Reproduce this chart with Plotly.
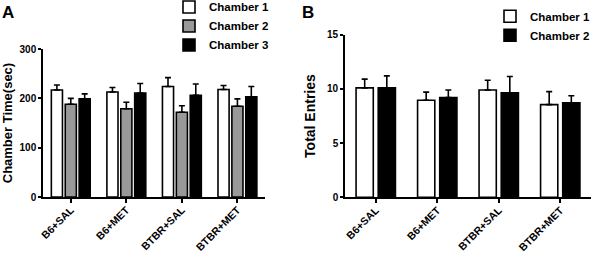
import plotly.graph_objects as go

groups = ["B6+SAL", "B6+MET", "BTBR+SAL", "BTBR+MET"]

# Panel A: chamber time (sec)
a_ch1 = [217, 213, 224, 218]
a_ch1_err = [10, 9, 18, 8]
a_ch2 = [188, 179, 172, 184]
a_ch2_err = [12, 13, 13, 15]
a_ch3 = [199, 211, 206, 203]
a_ch3_err = [10, 19, 23, 21]

# Panel B: total entries
b_ch1 = [10.1, 8.95, 9.9, 8.55]
b_ch1_err = [0.8, 0.75, 0.9, 1.2]
b_ch2 = [10.1, 9.2, 9.65, 8.72]
b_ch2_err = [1.1, 0.7, 1.5, 0.65]

FONT = "Liberation Sans, Arial, sans-serif"
LW = 1.6

fig = go.Figure()

def add_bar(x, y, err, name, fill, xaxis, yaxis, legend, width, offset, cap):
    fig.add_trace(go.Bar(
        x=x, y=y, name=name, xaxis=xaxis, yaxis=yaxis, legend=legend,
        width=width, offset=offset,
        marker=dict(color=fill, line=dict(color="black", width=LW)),
        error_y=dict(type="data", array=err, arrayminus=[0] * len(err), symmetric=False,
                     color="black", thickness=LW, width=cap),
    ))

# Panel A
add_bar(groups, a_ch1, a_ch1_err, "Chamber 1", "white", "x", "y", "legend", 0.2, -0.35, 3)
add_bar(groups, a_ch2, a_ch2_err, "Chamber 2", "#999999", "x", "y", "legend", 0.2, -0.1, 3)
add_bar(groups, a_ch3, a_ch3_err, "Chamber 3", "black", "x", "y", "legend", 0.2, 0.15, 3)
# Panel B
add_bar(groups, b_ch1, b_ch1_err, "Chamber 1", "white", "x2", "y2", "legend2", 0.28, -0.32, 3)
add_bar(groups, b_ch2, b_ch2_err, "Chamber 2", "black", "x2", "y2", "legend2", 0.28, 0.04, 3)

axis_common = dict(showline=True, linecolor="black", linewidth=LW, ticks="outside",
                   tickcolor="black", tickwidth=LW, showgrid=False, zeroline=False,
                   automargin=False)

y_tickfont = dict(family=FONT, size=10, color="black", weight="bold")
x_tickfont = dict(family=FONT, size=10.5, color="black", weight="bold")
legend_font = dict(family=FONT, size=11.5, weight="bold")

fig.update_layout(
    width=600, height=260,
    margin=dict(l=0, r=0, t=0, b=0, autoexpand=False),
    paper_bgcolor="white", plot_bgcolor="white",
    barmode="overlay",
    font=dict(family=FONT, color="black"),
    xaxis=dict(domain=[0.0717, 0.442], anchor="y", type="category", range=[-0.5, 3.5],
               tickangle=-45, ticklen=4, tickfont=x_tickfont, ticklabelstandoff=-3,
               **axis_common),
    yaxis=dict(domain=[0.242, 0.8115], anchor="x", range=[0, 300], tickvals=[0, 100, 200, 300],
               ticklen=3, tickfont=y_tickfont,
               title=dict(text="Chamber Time(sec)", font=dict(family=FONT, size=13, weight="bold"),
                          standoff=6),
               **axis_common),
    xaxis2=dict(domain=[0.575, 0.985], anchor="y2", type="category", range=[-0.5, 3.5],
                tickangle=-45, ticklen=4, tickfont=x_tickfont, ticklabelstandoff=-3,
                **axis_common),
    yaxis2=dict(domain=[0.241, 0.8665], anchor="x2", range=[0, 15], tickvals=[0, 5, 10, 15],
                ticklen=3, tickfont=y_tickfont,
                title=dict(text="Total Entries", font=dict(family=FONT, size=14, weight="bold"),
                           standoff=8),
                **axis_common),
    legend=dict(x=169 / 600, y=1.029, xanchor="left", yanchor="top", bgcolor="rgba(0,0,0,0)",
                font=legend_font, tracegroupgap=0),
    legend2=dict(x=490 / 600, y=0.993, xanchor="left", yanchor="top", bgcolor="rgba(0,0,0,0)",
                 font=legend_font, tracegroupgap=0),
    annotations=[
        dict(text="A", x=0.0, y=0.995, xref="paper", yref="paper", xanchor="left", yanchor="top",
             showarrow=False, font=dict(family=FONT, size=17, weight="bold")),
        dict(text="B", x=0.5, y=0.995, xref="paper", yref="paper", xanchor="left", yanchor="top",
             showarrow=False, font=dict(family=FONT, size=17, weight="bold")),
    ],
)

fig.write_html("out.html", config={"displayModeBar": False},
               post_script="document.body.style.margin='0';")
